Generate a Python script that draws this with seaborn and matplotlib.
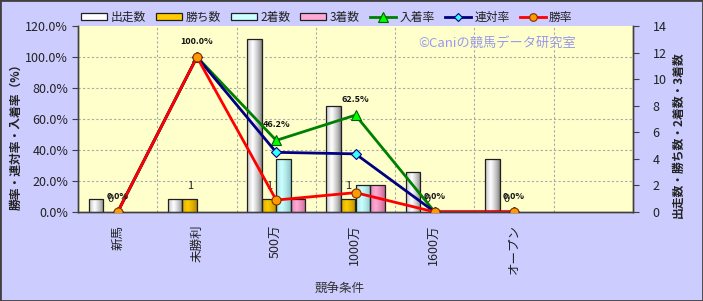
import numpy as np
import pandas as pd
import matplotlib
matplotlib.use('Agg')
import matplotlib.pyplot as plt
import matplotlib.transforms as mtransforms
import seaborn as sns
from matplotlib.patches import Patch, Rectangle
from matplotlib.lines import Line2D
from matplotlib.ticker import FuncFormatter

# ---------------- data ----------------
categories = ['新馬', '未勝利', '500万', '1000万', '1600万', 'オープン', '']
data_cats = ['新馬', '未勝利', '500万', '1000万', '1600万', 'オープン']
starts = [1, 1, 13, 8, 3, 4]
wins = [0, 1, 1, 1, 0, 0]
seconds = [0, 0, 4, 2, 0, 0]
thirds = [0, 0, 1, 2, 0, 0]
place_rate = [0.0, 100.0, 46.2, 62.5, 0.0, 0.0]
rentai_rate = [0.0, 100.0, 38.5, 37.5, 0.0, 0.0]
win_rate = [0.0, 100.0, 7.7, 12.5, 0.0, 0.0]
count_series = ['出走数', '勝ち数', '2着数', '3着数']
rate_series = ['入着率', '連対率', '勝率']
rate_ticks = [0, 20, 40, 60, 80, 100, 120]
count_ticks = [0, 2, 4, 6, 8, 10, 12, 14]

plt.rcParams['font.family'] = ['Noto Sans CJK JP', 'DejaVu Sans']

BG = '#CCCCFF'
PLOT_BG = '#FFFFCC'
TXT = '#222222'

bar_center = {'出走数': '#ffffff', '勝ち数': '#ffcc00', '2着数': '#ccffff', '3着数': '#ffaad4'}
bar_edge = {'出走数': '#7a7a7a', '勝ち数': '#b08400', '2着数': '#80bcbc', '3着数': '#c06090'}
line_style = {
    '入着率': dict(color='#008000', marker='^', mfc='#00ff00', mec='#006000', ms=7.5),
    '連対率': dict(color='#000080', marker='D', mfc='#33ffff', mec='#000080', ms=5),
    '勝率': dict(color='#ff0000', marker='o', mfc='#ff9900', mec='#803000', ms=6.5),
}

df_counts = pd.DataFrame({
    'cond': data_cats * 4,
    'series': sum([[s] * len(data_cats) for s in count_series], []),
    'value': starts + wins + seconds + thirds,
})
df_counts['cond'] = pd.Categorical(df_counts['cond'], categories=categories)

fig = plt.figure(figsize=(7.03, 3.01), dpi=100, facecolor=BG)
ax = fig.add_axes([78 / 703, 1 - 212 / 301, (633 - 78) / 703, (212 - 26) / 301])
ax.set_facecolor(PLOT_BG)

sns.barplot(data=df_counts, x='cond', y='value', hue='series', order=categories,
            hue_order=count_series, palette=bar_center, width=0.735, gap=0,
            edgecolor='#202020', linewidth=0.9, ax=ax, legend=False, zorder=3)

# cylinder-like gradient on bars
t = np.linspace(0, 1, 64)
prof = np.clip(1 - np.abs(t - 0.38) / 0.62, 0, 1) ** 0.7
for s, cont in zip(count_series, ax.containers):
    c0 = np.array(matplotlib.colors.to_rgb(bar_edge[s]))
    c1 = np.array(matplotlib.colors.to_rgb(bar_center[s]))
    grad = (c0[None, :] + (c1 - c0)[None, :] * prof[:, None])[None, :, :]
    for p in cont.patches:
        h = p.get_height()
        if h <= 0:
            p.set_visible(False)
            continue
        x0, w = p.get_x(), p.get_width()
        im = ax.imshow(grad, extent=[x0, x0 + w, 0, h], aspect='auto',
                       zorder=2.9, interpolation='bilinear')
        im.set_clip_path(p)
        p.set_facecolor('none')

# win-count labels
for p, v in zip(ax.containers[1].patches, wins):
    ax.annotate(str(v), (p.get_x() + p.get_width() / 2, v), xytext=(0, 9),
                textcoords='offset points', ha='center', va='center',
                fontsize=8, color=TXT, zorder=6)

ax.set_xlim(-0.5, len(categories) - 0.5)
ax.set_ylim(0, 14)
ax.set_xticks(range(len(categories)))
ax.set_xticklabels(categories, rotation=90, fontsize=9, color=TXT)
ax.tick_params(axis='x', length=0, pad=9)
ax.set_xlabel('競争条件', fontsize=9, color='#333333')
ax.xaxis.set_label_coords(0.472, -0.382)

# rates on twin axis
ax2 = ax.twinx()
for name, vals in zip(rate_series, [place_rate, rentai_rate, win_rate]):
    st = line_style[name]
    sns.lineplot(x=np.arange(len(vals)), y=vals, ax=ax2, color=st['color'],
                 marker=st['marker'], markersize=st['ms'], markerfacecolor=st['mfc'],
                 markeredgecolor=st['mec'], markeredgewidth=0.8, linewidth=2.0,
                 sort=False, zorder=4)
for i, v in enumerate(place_rate):
    ax2.annotate(f'{v:.1f}%', (i, v), xytext=(0, 11.5), textcoords='offset points',
                 ha='center', va='center', fontsize=6.5, fontweight='bold',
                 color='#111111', zorder=7)
ax2.set_ylim(0, 120)
ax2.set_xlim(-0.5, len(categories) - 0.5)

# axis sides (after twinx, which resets the original axis to the left)
ax.yaxis.tick_right()
ax.yaxis.set_label_position('right')
ax.set_yticks(count_ticks)
ax.tick_params(axis='y', which='both', direction='out', length=4, colors='#404040',
               labelcolor=TXT, labelsize=9, pad=10, left=False, labelleft=False,
               right=True, labelright=True)
ax.set_ylabel('出走数・勝ち数・2着数・3着数', fontsize=8.5, fontweight='bold', color=TXT)
ax.yaxis.set_label_coords(1.070, 0.415)

ax2.yaxis.tick_left()
ax2.yaxis.set_label_position('left')
ax2.set_yticks(rate_ticks)
ax2.yaxis.set_major_formatter(FuncFormatter(lambda v, p: f'{v:.1f}%'))
ax2.tick_params(axis='y', direction='out', length=4, colors='#404040',
                labelcolor=TXT, labelsize=9, pad=3, right=False, labelright=False,
                left=True, labelleft=True)
ax2.set_ylabel('勝率・連対率・入着率（%）', fontsize=8.5, fontweight='bold', color=TXT)
ax2.yaxis.set_label_coords(-0.099, 0.419)

# grid
blend = mtransforms.blended_transform_factory(ax.transAxes, ax2.transData)
for v in rate_ticks[1:-1]:
    ax.plot([0, 1], [v, v], transform=blend, color='#a8a8a8', lw=0.8,
            ls=(0, (2, 2)), zorder=1)
for b in np.arange(0.5, len(categories) - 0.5, 1):
    ax.axvline(b, color='#a8a8a8', lw=0.8, ls=(0, (2, 2)), zorder=1)

for a in (ax, ax2):
    a.spines['top'].set_visible(False)
    for sp in ('left', 'right', 'bottom'):
        a.spines[sp].set_color('#404040')
        a.spines[sp].set_linewidth(1.0)

# watermark
ax2.text(0.755, 0.905, '©Caniの競馬データ研究室', transform=ax2.transAxes,
         ha='center', va='center', fontsize=9.5, color='#9999ee', zorder=2)

# legend
handles = [Patch(facecolor=bar_center[s], edgecolor='#202020', linewidth=0.9)
           for s in count_series]
for name in rate_series:
    st = line_style[name]
    handles.append(Line2D([], [], color=st['color'], lw=2.0, marker=st['marker'],
                          ms=st['ms'] - 1, mfc=st['mfc'], mec=st['mec'], mew=0.8))
fig.legend(handles, count_series + rate_series, loc='center', ncol=7,
           bbox_to_anchor=(0.465, 0.943), frameon=False, fontsize=8.5,
           handlelength=2.2, handleheight=0.55, handletextpad=0.3,
           columnspacing=0.85, labelcolor=TXT)

fig.patches.append(Rectangle((0, 0), 1, 1, transform=fig.transFigure, fill=False,
                             edgecolor='#404040', linewidth=2.0))

fig.savefig('out.png', dpi=100, facecolor=BG)
